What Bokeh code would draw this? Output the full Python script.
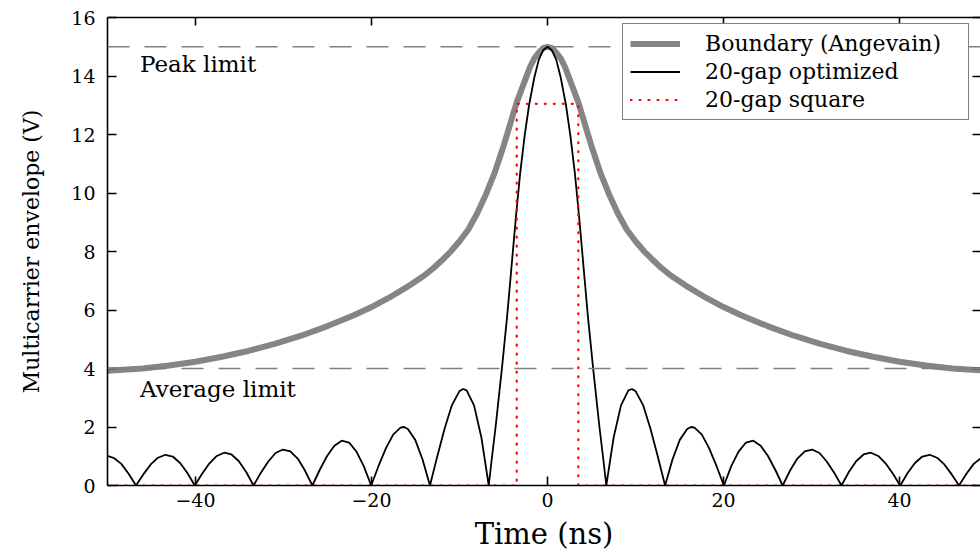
from bokeh.plotting import figure
from bokeh.models import Range1d, LinearAxis, Span, Legend, LegendItem, FixedTicker, Label
from bokeh.embed import file_html
from bokeh.resources import INLINE

# ---------------- data ----------------
x_ticks = [-40, -20, 0, 20, 40]
y_ticks = [0, 2, 4, 6, 8, 10, 12, 14, 16]
x_tick_labels = {-40: "\u221240", -20: "\u221220", 0: "0", 20: "20", 40: "40"}

peak_limit = 15.0
average_limit = 4.0

# Boundary (Angevain)
boundary_x = [-50, -46, -43, -40, -37, -34, -31, -28, -25, -22, -20, -18, -16, -14, -13, -12, -11,
              -10, -9, -8, -7, -6, -5, -4.5, -4, -3.5, -3, -2.5, -2, -1.5, -1, -0.5,
              0,
              0.5, 1, 1.5, 2, 2.5, 3, 3.5, 4, 4.5, 5, 6, 7, 8, 9, 10,
              11, 12, 13, 14, 16, 18, 20, 22, 25, 28, 31, 34, 37, 40, 43, 46, 50]
boundary_y = [3.92, 4.0, 4.1, 4.23, 4.4, 4.6, 4.84, 5.12, 5.45, 5.82, 6.1, 6.42, 6.78, 7.18, 7.42, 7.7, 8.0,
              8.35, 8.75, 9.3, 9.95, 10.7, 11.6, 12.1, 12.6, 13.1, 13.5, 13.9, 14.3, 14.6, 14.8, 14.95,
              15.0,
              14.95, 14.8, 14.6, 14.3, 13.9, 13.5, 13.1, 12.6, 12.1, 11.6, 10.7, 9.95, 9.3, 8.75, 8.35,
              8.0, 7.7, 7.42, 7.18, 6.78, 6.42, 6.1, 5.82, 5.45, 5.12, 4.84, 4.6, 4.4, 4.23, 4.1, 4.0, 3.92]

# 20-gap optimized
optimized_x = [-50.1, -49.27, -48.43, -47.6, -46.76,
               -45.93, -45.09, -44.26, -43.42, -42.59, -41.75, -40.92, -40.08,
               -39.25, -38.41, -37.58, -36.74, -35.91, -35.07, -34.24, -33.4,
               -32.57, -31.73, -30.9, -30.06, -29.23, -28.39, -27.56, -26.72,
               -25.89, -25.05, -24.22, -23.38, -22.55, -21.71, -20.88, -20.04,
               -19.21, -18.37, -17.54, -16.7, -16.3, -15.87, -15.03, -14.2, -13.36,
               -12.53, -11.69, -10.86, -10.02, -9.6, -9.19, -8.35, -7.52, -6.68,
               -6.3, -5.9, -5.2, -4.6, -4.1, -3.6, -3.1, -2.6, -2.1, -1.5, -1.0, -0.5,
               0.0,
               0.5, 1.0, 1.5, 2.1, 2.6, 3.1, 3.6, 4.1, 4.6, 5.2, 5.9, 6.3,
               6.68, 7.52, 8.35, 9.19, 9.6, 10.02, 10.86, 11.69, 12.53,
               13.36, 14.2, 15.03, 15.87, 16.3, 16.7, 17.54, 18.37, 19.21,
               20.04, 20.88, 21.71, 22.55, 23.38, 24.22, 25.05, 25.89,
               26.72, 27.56, 28.39, 29.23, 30.06, 30.9, 31.73, 32.57,
               33.4, 34.24, 35.07, 35.91, 36.74, 37.58, 38.41, 39.25,
               40.08, 40.92, 41.75, 42.59, 43.42, 44.26, 45.09, 45.93,
               46.76, 47.6, 48.43, 49.27, 50.1]
optimized_y = [1.02, 0.94, 0.74, 0.40, 0.0,
               0.38, 0.72, 0.95, 1.05, 0.99, 0.77, 0.43, 0.0,
               0.40, 0.76, 1.01, 1.12, 1.06, 0.83, 0.46, 0.0,
               0.44, 0.82, 1.11, 1.23, 1.17, 0.92, 0.51, 0.0,
               0.53, 1.01, 1.36, 1.53, 1.47, 1.16, 0.66, 0.0,
               0.66, 1.27, 1.74, 1.98, 2.0, 1.93, 1.56, 0.89, 0.0,
               0.99, 1.95, 2.75, 3.22, 3.3, 3.25, 2.74, 1.65, 0.0,
               1.0, 2.0, 3.95, 5.75, 7.45, 9.15, 10.7, 11.95, 13.0, 13.95, 14.55, 14.88,
               15.0,
               14.88, 14.55, 13.95, 13.0, 11.95, 10.7, 9.15, 7.45, 5.75, 3.95, 2.0, 1.0,
               0.0, 1.65, 2.74, 3.25, 3.3, 3.22, 2.75, 1.95, 0.99,
               0.0, 0.89, 1.56, 1.93, 2.0, 1.98, 1.74, 1.27, 0.66,
               0.0, 0.66, 1.16, 1.47, 1.53, 1.36, 1.01, 0.53,
               0.0, 0.51, 0.92, 1.17, 1.23, 1.11, 0.82, 0.44,
               0.0, 0.46, 0.83, 1.06, 1.12, 1.01, 0.76, 0.40,
               0.0, 0.43, 0.77, 0.99, 1.05, 0.95, 0.72, 0.38,
               0.0, 0.40, 0.74, 0.94, 1.02]

# 20-gap square
square_x = [-50, -3.5, -3.5, 3.5, 3.5, 50]
square_y = [0, 0, 13.05, 13.05, 0, 0]

# ---------------- figure ----------------
FONT = "DejaVu Serif"

p = figure(width=980, height=553, x_range=Range1d(-50, 49.2), y_range=Range1d(0, 16),
           output_backend="svg", toolbar_location=None,
           min_border_left=107, min_border_right=0, min_border_top=17, min_border_bottom=65,
           x_axis_label="Time (ns)", y_axis_label="Multicarrier envelope (V)")
p.grid.visible = False
p.outline_line_color = None
p.background_fill_color = "white"
p.border_fill_color = "white"

p.xaxis.ticker = FixedTicker(ticks=x_ticks)
p.yaxis.ticker = FixedTicker(ticks=y_ticks)
p.xaxis.major_label_overrides = x_tick_labels

for ax in p.axis:
    ax.axis_line_width = 1.6
    ax.axis_line_color = "black"
    ax.major_tick_in = 9
    ax.major_tick_out = 0
    ax.major_tick_line_width = 1.6
    ax.minor_tick_line_color = None
    ax.major_label_text_font = FONT
    ax.major_label_text_font_size = "19px"
    ax.major_label_text_color = "black"
    ax.axis_label_text_font = FONT
    ax.axis_label_text_font_style = "normal"
    ax.axis_label_text_color = "black"

p.xaxis.major_label_standoff = 7
p.yaxis.major_label_standoff = 12
p.xaxis.axis_label_text_font_size = "29px"
p.xaxis.axis_label_standoff = 7
p.yaxis.axis_label_text_font_size = "22px"
p.yaxis.axis_label_standoff = 24

blank_x = {t: "" for t in x_ticks}
blank_y = {t: "" for t in y_ticks}
top_axis = LinearAxis(ticker=FixedTicker(ticks=x_ticks), major_label_overrides=blank_x,
                      major_label_standoff=0, major_tick_in=8, major_tick_out=0,
                      major_tick_line_width=1.6, axis_line_width=1.6, minor_tick_line_color=None)
p.add_layout(top_axis, "above")
right_axis = LinearAxis(ticker=FixedTicker(ticks=y_ticks), major_label_overrides=blank_y,
                        major_label_standoff=0, major_tick_in=8, major_tick_out=0,
                        major_tick_line_width=1.6, axis_line_color=None, minor_tick_line_color=None)
p.add_layout(right_axis, "right")

# limit lines
for loc in (peak_limit, average_limit):
    p.add_layout(Span(location=loc, dimension="width", line_color="#808080",
                      line_width=1.4, line_dash="22 15"))

r_boundary = p.line(boundary_x, boundary_y, line_color="#858585", line_width=6)
r_opt = p.line(optimized_x, optimized_y, line_color="black", line_width=1.8)
r_sq = p.line(square_x, square_y, line_color="red", line_width=2.2, line_dash="1 8",
              line_cap="round")

p.add_layout(Label(x=-46.3, y=14.4, text="Peak limit", text_font=FONT,
                   text_font_size="23px", text_baseline="middle", text_color="black"))
p.add_layout(Label(x=-46.3, y=3.3, text="Average limit", text_font=FONT,
                   text_font_size="23px", text_baseline="middle", text_color="black"))

legend = Legend(items=[LegendItem(label="Boundary (Angevain)", renderers=[r_boundary]),
                       LegendItem(label="20-gap optimized", renderers=[r_opt]),
                       LegendItem(label="20-gap square", renderers=[r_sq])],
                location=(515, 365), margin=0, padding=7, spacing=3,
                glyph_width=50, glyph_height=25, label_height=25, label_standoff=25,
                label_width=256,
                label_text_font=FONT, label_text_font_size="22px", label_text_color="black",
                border_line_color="black", border_line_width=1.5,
                background_fill_color="white", background_fill_alpha=1.0)
p.add_layout(legend)

open("out.html", "w").write(file_html(p, INLINE))
